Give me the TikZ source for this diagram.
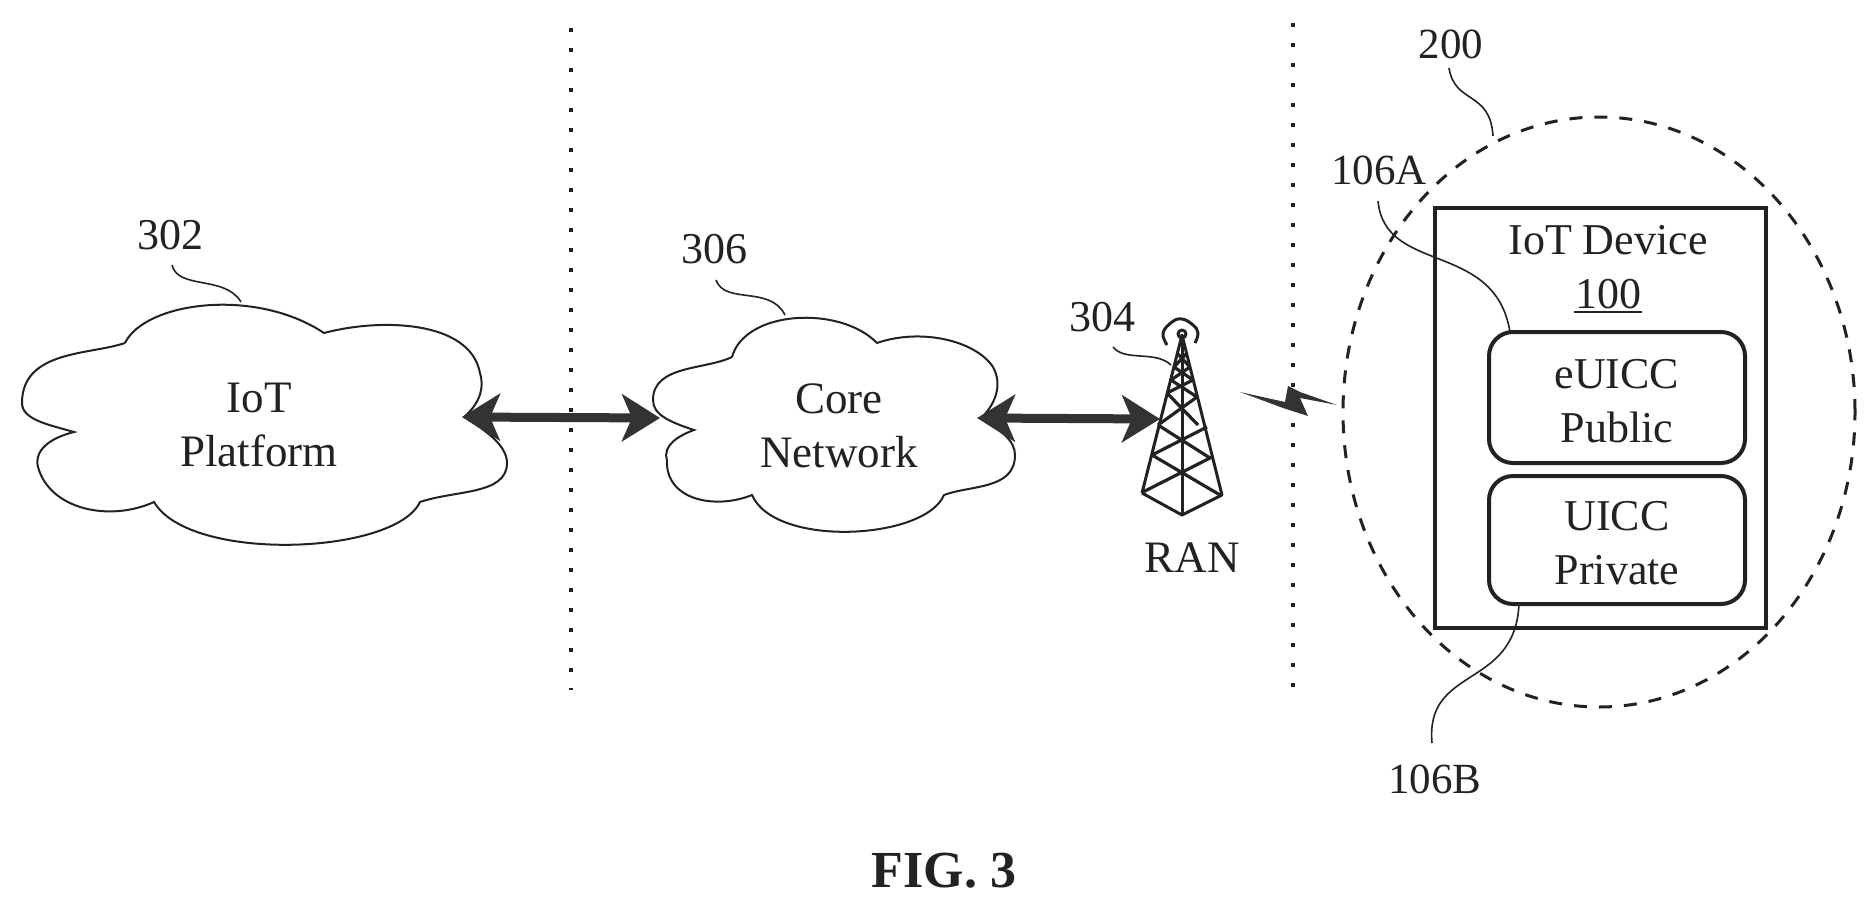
\documentclass[tikz,border=0pt]{standalone}
\usepackage{fontspec}
\setmainfont{Liberation Serif}
\usetikzlibrary{arrows.meta,shapes.geometric}
\definecolor{ink}{HTML}{222222}
\definecolor{hatch}{HTML}{333333}
\tikzset{
  lbl/.style={font=\fontsize{44}{54}\selectfont,text=ink,inner sep=0pt,align=center},
  cloudtext/.style={font=\fontsize{45}{54}\selectfont,text=ink,inner sep=0pt,align=center},
  cloudline/.style={draw=ink,line width=2pt},
  leader/.style={draw=ink,line width=1.6pt},
  divider/.style={draw=ink,line width=3.5pt,dash pattern=on 4pt off 16pt},
  dbl/.style={draw=hatch,line width=9pt,{Stealth[length=38pt,width=47pt,inset=10pt]}-{Stealth[length=38pt,width=47pt,inset=10pt]}},
  towerline/.style={draw=ink,line width=3pt,line join=round},
  devbox/.style={draw=ink,line width=4.5pt,inner sep=0pt},
  simbox/.style={draw=ink,line width=4pt,rounded corners=24pt,minimum width=256pt,inner sep=0pt,font=\fontsize{44}{54}\selectfont,text=ink,align=center},
  zone/.style={draw=ink,line width=3pt,dash pattern=on 13pt off 12pt}
}
\begin{document}
\begin{tikzpicture}[x=1pt,y=-1pt]
\useasboundingbox[fill=white] (0,0) rectangle (1875,908);
% dividers
\coordinate (d1a) at (571,28); \coordinate (d1b) at (571,690);
\coordinate (d2a) at (1293,23); \coordinate (d2b) at (1293,690);
\draw[divider] (d1a) -- (d1b);
\draw[divider] (d2a) -- (d2b);
% cloud IoT platform
\coordinate (p-e) at (462,417);
\draw[cloudline]
 (125,343) .. controls (145,302) and (255,287) .. (324,333)
 .. controls (380,318) and (470,320) .. (480,373)
 .. controls (485,390) and (478,405) .. (464,417)
 .. controls (485,430) and (507,445) .. (507,463)
 .. controls (507,495) and (455,490) .. (420,502)
 .. controls (395,555) and (190,563) .. (154,502)
 .. controls (110,522) and (50,510) .. (38,467)
 .. controls (34,450) and (50,438) .. (74,432)
 .. controls (50,425) and (22,420) .. (22,403)
 .. controls (22,350) and (90,355) .. (125,343);
\node[cloudtext] (platform) at (259,425) {IoT\\Platform};
\node[lbl] (l302) at (170,235) {302};
\coordinate (l302a) at (172,265); \coordinate (l302b) at (241,302);
\draw[leader] (l302a) .. controls (178,290) and (225,275) .. (l302b);
% cloud core network
\coordinate (c-w) at (660,418); \coordinate (c-e) at (977,418);
\draw[cloudline]
 (732,357) .. controls (745,310) and (840,305) .. (877,343)
 .. controls (920,328) and (975,340) .. (993,367)
 .. controls (1003,385) and (995,405) .. (981,418)
 .. controls (1000,430) and (1015,440) .. (1015,455)
 .. controls (1015,490) and (970,485) .. (944,495)
 .. controls (925,540) and (775,548) .. (752,495)
 .. controls (715,510) and (665,500) .. (667,460)
 .. controls (662,445) and (680,435) .. (694,430)
 .. controls (670,422) and (653,415) .. (653,400)
 .. controls (653,365) and (705,370) .. (732,357);
\node[cloudtext] (core) at (839,426) {Core\\Network};
\node[lbl] (l306) at (714,249) {306};
\coordinate (l306a) at (716,280); \coordinate (l306b) at (785,315);
\draw[leader] (l306a) .. controls (725,305) and (770,285) .. (l306b);
% arrows
\coordinate (t-w) at (1160,419);
\draw[dbl] (p-e) -- (c-w);
\draw[dbl] (c-e) -- (t-w);
% tower
\coordinate (t-top) at (1182,335); \coordinate (t-l) at (1142,493);
\coordinate (t-r) at (1222,495); \coordinate (t-b) at (1182,515);
\draw[towerline] (t-l) -- (t-top) -- (t-r) -- (t-b) -- (t-l);
\draw[towerline] (t-top) -- (t-b);
\draw[towerline,line width=3.2pt]
 (1177,353)--(1190,367) (1187,353)--(1174,367)
 (1174,367)--(1193,380) (1190,367)--(1171,380)
 (1171,380)--(1197,397) (1193,380)--(1167,393)
 (1167,393)--(1198,425) (1197,397)--(1158,425)
 (1158,425)--(1210,458) (1207,427)--(1152,455)
 (1152,455)--(1220,495) (1212,457)--(1143,492);
\draw[towerline] plot[smooth,tension=.7] coordinates {(1167,345) (1163,333) (1172,322) (1182,319) (1193,325) (1198,333) (1195,343)};
\draw[towerline] (1182,334) circle (4);
\node[cloudtext] (ran) at (1192,558) {RAN};
\node[lbl] (l304) at (1102,317) {304};
\coordinate (l304a) at (1113,347); \coordinate (l304b) at (1171,365);
\draw[leader] (l304a) .. controls (1125,362) and (1155,350) .. (l304b);
% lightning
\fill[hatch] (1240,392) -- (1285,402) -- (1288,386) -- (1300,392) -- (1337,405) -- (1300,398) -- (1308,416) -- (1283,408) -- cycle;
% device
\node[zone,ellipse,minimum width=512pt,minimum height=590pt,inner sep=0pt] (zone200) at (1599,412) {};
\node[devbox,minimum width=331pt,minimum height=420pt] (dev) at (1600.5,418) {};
\node[simbox,minimum height=131pt] (euicc) at (1617,397.5) {\rule{0pt}{36pt}eUICC\\Public};
\node[simbox,minimum height=128pt] (uicc) at (1617,540) {\rule{0pt}{36pt}UICC\\Private};
\node[lbl] (devtext) at (1608,269) {IoT Device\\\makebox[0pt][l]{\rule[-5pt]{68pt}{2.5pt}}\hspace*{1pt}100\hspace*{1pt}};
\node[lbl,font=\fontsize{43}{54}\selectfont] (l200) at (1451,44) {200};
\node[lbl,font=\fontsize{43}{54}\selectfont] (l106a) at (1379,170) {106A};
\node[lbl,font=\fontsize{43}{54}\selectfont] (l106b) at (1435,779) {106B};
\coordinate (l200a) at (1449,68); \coordinate (l200b) at (1493,136);
\draw[leader] (l200a) .. controls (1455,105) and (1490,90) .. (l200b);
\coordinate (l106aa) at (1378,201); \coordinate (l106ab) at (1510,332);
\draw[leader] (l106aa) .. controls (1385,275) and (1495,240) .. (l106ab);
\coordinate (l106ba) at (1519,604); \coordinate (l106bb) at (1432,743);
\draw[leader] (l106ba) .. controls (1515,690) and (1425,665) .. (l106bb);
% caption
\node[lbl,font=\fontsize{52}{54}\selectfont\bfseries] (fig) at (944,871) {FIG. 3};
\end{tikzpicture}
\end{document}
